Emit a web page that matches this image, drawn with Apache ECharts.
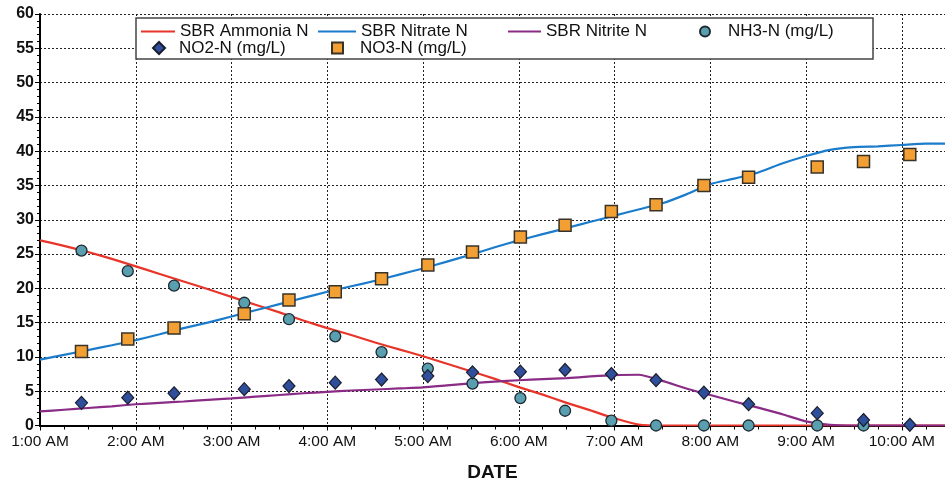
<!DOCTYPE html>
<html>
<head>
<meta charset="utf-8">
<title>SBR Nitrogen Profile</title>
<script src="https://cdn.jsdelivr.net/npm/echarts@6/dist/echarts.min.js"></script>
<style>
  html, body { margin: 0; padding: 0; background: #ffffff; }
  #chart { width: 945px; height: 488px; }
</style>
</head>
<body>
<div id="chart"></div>
<script>
// Model curves, sampled every 15 minutes (mg/L)
const curveTimes = ['1:00','1:15','1:30','1:45','2:00','2:15','2:30','2:45','3:00','3:15','3:30','3:45',
  '4:00','4:15','4:30','4:45','5:00','5:15','5:30','5:45','6:00','6:15','6:30','6:45',
  '7:00','7:15','7:30','7:45','8:00','8:15','8:30','8:45','9:00','9:15','9:30','9:45',
  '10:00','10:15','10:30'];
const sbrAmmonia = [27.0,26.2,25.3,24.3,23.2,22.1,21.0,19.9,18.75,17.6,16.5,15.3,
  14.2,13.2,12.1,11.1,10.1,9.0,7.9,6.8,5.6,4.5,3.3,2.2,
  1.05,0.15,0,0,0,0,0,0,0,0,0,0,0,0,0];
const sbrNitrate = [9.6,10.3,11.0,11.7,12.45,13.3,14.2,15.0,15.9,16.8,17.7,18.6,
  19.5,20.3,21.1,22.0,22.9,23.9,24.9,26.0,27.0,27.9,28.8,29.7,
  30.6,31.5,32.4,33.7,35.2,36.0,36.9,38.2,39.3,40.2,40.6,40.7,40.9,41.1,41.1];
const sbrNitrite = [2.05,2.3,2.55,2.8,3.1,3.3,3.5,3.75,3.95,4.2,4.45,4.7,
  4.9,5.1,5.25,5.4,5.55,5.85,6.15,6.4,6.6,6.75,6.9,7.15,
  7.35,7.4,6.5,5.4,4.45,3.5,2.6,1.65,0.6,0.1,0,0,0,0,0];

// Grab-sample measurements (mg/L)
const sampleTimes = ['1:26','1:55','2:24','3:08','3:36','4:05','4:34','5:03','5:31','6:01',
  '6:29','6:58','7:26','7:56','8:24','9:07','9:36','10:05'];
const nh3N = [25.5,22.5,20.4,17.9,15.5,13.0,10.7,8.3,6.1,4.0,2.15,0.7,0,0,0,0,0,null];
const no2N = [3.3,4.05,4.7,5.3,5.75,6.25,6.7,7.2,7.75,7.85,8.1,7.5,6.6,4.8,3.1,1.8,0.8,0.1];
const no3N = [10.8,12.6,14.2,16.3,18.3,19.5,21.4,23.4,25.3,27.5,29.2,31.2,32.2,35.0,36.2,37.7,38.5,39.5];

const hourLabels = ['1:00 AM','2:00 AM','3:00 AM','4:00 AM','5:00 AM','6:00 AM','7:00 AM','8:00 AM','9:00 AM','10:00 AM'];

function toHours(t) {
  const [h, m] = t.split(':').map(Number);
  return h + m / 60;
}
function pairs(times, values) {
  return times.map((t, i) => [toHours(t), values[i]]).filter(p => p[1] !== null);
}

const FONT = 'Liberation Sans, Arial, Helvetica, sans-serif';
const dotted = { type: [2, 2], color: '#222', width: 1 };

const names = {
  amm: 'SBR Ammonia N', nitra: 'SBR Nitrate N', nitri: 'SBR Nitrite N',
  nh3: 'NH3-N (mg/L)', no2: 'NO2-N (mg/L)', no3: 'NO3-N (mg/L)'
};

function legendItem(name, left, top, icon, w, h, padLeft) {
  return {
    data: [{ name: name, icon: icon }],
    left: left, top: top, padding: 0,
    itemWidth: w, itemHeight: h, z: 20,
    selectedMode: false,
    textStyle: { fontFamily: FONT, fontSize: 17, color: '#111', lineHeight: 18, padding: [0, 0, 0, padLeft] }
  };
}

const chart = echarts.init(document.getElementById('chart'), null, { renderer: 'canvas' });
chart.setOption({
  animation: false,
  backgroundColor: '#ffffff',
  grid: { left: 40, right: 0, top: 14, bottom: 62.5, containLabel: false },
  graphic: [{
    type: 'rect', z: 10,
    shape: { x: 136, y: 18, width: 737, height: 41 },
    style: { fill: '#ffffff', stroke: '#444', lineWidth: 1.5 }
  }],
  legend: [
    legendItem(names.amm, 141, 22.5, 'rect', 34, 2, 0),
    legendItem(names.nitra, 318, 22.5, 'rect', 38, 2, 0),
    legendItem(names.nitri, 508, 22.5, 'rect', 33, 2, 0),
    legendItem(names.nh3, 699, 22.5, 'circle', 10, 10, 13),
    legendItem(names.no2, 152, 39, 'diamond', 12, 12, 9),
    legendItem(names.no3, 331, 39, 'rect', 11, 11, 12)
  ],
  xAxis: [{
    type: 'value',
    min: 1, max: 10.451, interval: 1,
    axisLine: { show: true, onZero: false, lineStyle: { color: '#000', width: 2 } },
    axisTick: { show: true, inside: false, length: 5, lineStyle: { color: '#000', width: 1 } },
    minorTick: { show: true, splitNumber: 4, length: 4, lineStyle: { color: '#000', width: 1 } },
    splitLine: { show: true, lineStyle: dotted },
    axisLabel: {
      fontFamily: FONT, fontSize: 15.5, color: '#111', margin: 8,
      formatter: v => hourLabels[Math.round(v) - 1] || ''
    },
    name: 'DATE', nameLocation: 'middle', nameGap: 38,
    nameTextStyle: { fontFamily: FONT, fontSize: 19, fontWeight: 'bold', color: '#111' }
  }, {
    type: 'value', position: 'top',
    min: 1, max: 10.451,
    axisLine: { show: true, lineStyle: { color: '#000', width: 2 } },
    axisTick: { show: false }, axisLabel: { show: false }, splitLine: { show: false }
  }],
  yAxis: {
    type: 'value', min: 0, max: 60, interval: 5,
    axisLine: { show: true, lineStyle: { color: '#000', width: 2 } },
    axisTick: { show: true, inside: false, length: 5, lineStyle: { color: '#000', width: 1 } },
    minorTick: { show: true, splitNumber: 5, length: 3, lineStyle: { color: '#000', width: 1 } },
    splitLine: { show: true, lineStyle: dotted },
    axisLabel: { fontFamily: FONT, fontSize: 16, fontWeight: 'bold', color: '#111', margin: 6 }
  },
  series: [
    {
      name: names.amm, type: 'line', color: '#e8352a',
      data: pairs(curveTimes, sbrAmmonia), showSymbol: false, symbol: 'none', smooth: 0.2,
      lineStyle: { width: 2.2, color: '#e8352a' }, z: 3
    },
    {
      name: names.nitra, type: 'line', color: '#1c7ccc',
      data: pairs(curveTimes, sbrNitrate), showSymbol: false, symbol: 'none', smooth: 0.2,
      lineStyle: { width: 2.2, color: '#1c7ccc' }, z: 3
    },
    {
      name: names.nitri, type: 'line', color: '#8a2c86',
      data: pairs(curveTimes, sbrNitrite), showSymbol: false, symbol: 'none', smooth: 0.2,
      lineStyle: { width: 2.2, color: '#8a2c86' }, z: 3
    },
    {
      name: names.nh3, type: 'scatter', symbol: 'circle', symbolSize: 11,
      data: pairs(sampleTimes, nh3N),
      itemStyle: { color: '#5a9fb0', borderColor: '#1e2a30', borderWidth: 1.3, opacity: 1 }, z: 5
    },
    {
      name: names.no2, type: 'scatter', symbol: 'diamond', symbolSize: [12, 13],
      data: pairs(sampleTimes, no2N),
      itemStyle: { color: '#2f4f9c', borderColor: '#1a1e2c', borderWidth: 1.2, opacity: 1 }, z: 6
    },
    {
      name: names.no3, type: 'scatter', symbol: 'rect', symbolSize: 12,
      data: pairs(sampleTimes, no3N),
      itemStyle: { color: '#f2a034', borderColor: '#383228', borderWidth: 1.5, opacity: 1 }, z: 5
    }
  ]
});
</script>
</body>
</html>
